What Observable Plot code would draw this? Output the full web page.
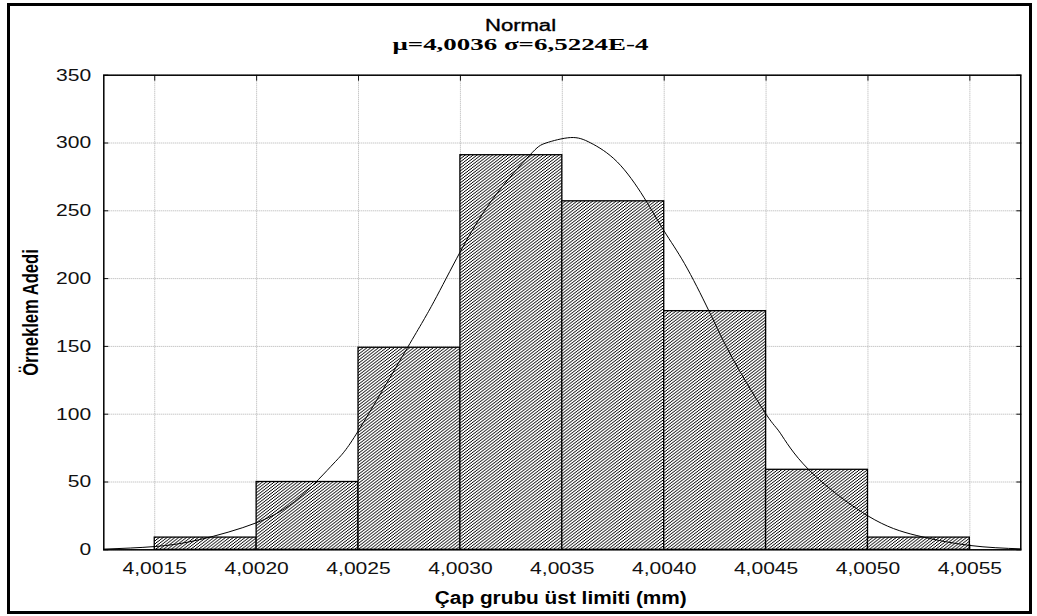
<!DOCTYPE html>
<html>
<head>
<meta charset="utf-8">
<script src="https://cdn.jsdelivr.net/npm/d3@7"></script>
<script src="https://cdn.jsdelivr.net/npm/@observablehq/plot@0.6"></script>
<style>
  html, body { margin: 0; padding: 0; background: #fff; }
  #wrap { position: relative; width: 1037px; height: 616px; overflow: hidden; background: #fff; }
  #wrap svg { position: absolute; left: 0; top: 0; }
  #border { position: absolute; left: 7px; top: 3px; width: 1025px; height: 611px; box-sizing: border-box; border: 3px solid #000; pointer-events: none; }
</style>
</head>
<body>
<div id="wrap"><div id="border"></div></div>
<script>
// ---- data ----
const titleText = "Normal";
const subtitleText = "μ=4,0036 σ=6,5224E-4";
const xLabel = "Çap grubu üst limiti (mm)";
const yLabel = "Örneklem Adedi";

const binLow  = [4.0015, 4.0020, 4.0025, 4.0030, 4.0035, 4.0040, 4.0045, 4.0050];
const binHigh = [4.0020, 4.0025, 4.0030, 4.0035, 4.0040, 4.0045, 4.0050, 4.0055];
const counts  = [9, 50, 149, 291, 257, 176, 59, 9];

// fitted normal curve
const curveX = [4.00125, 4.0015, 4.00172, 4.0020, 4.00221, 4.00238, 4.0025, 4.00274, 4.00287, 4.0030,
                4.00316, 4.00334, 4.00342, 4.00354, 4.00364, 4.00377, 4.0039, 4.0040, 4.0041, 4.00422,
                4.00434, 4.0045, 4.00457, 4.00471, 4.0050, 4.00524, 4.0055, 4.00575];
const curveY = [0.5, 2.4, 7.5, 20, 38.5, 64, 88, 149, 183, 220,
                259, 291, 300, 304, 300, 286, 260, 235, 211, 176,
                140, 100, 86, 59, 25, 10.5, 3.2, 0.7];

const xTicks = [4.0015, 4.0020, 4.0025, 4.0030, 4.0035, 4.0040, 4.0045, 4.0050, 4.0055];
const xTickLabels = ["4,0015", "4,0020", "4,0025", "4,0030", "4,0035", "4,0040", "4,0045", "4,0050", "4,0055"];
const yTicks = [0, 50, 100, 150, 200, 250, 300, 350];
const xDomain = [4.00125, 4.00575];
const yDomain = [0, 350];

// ---- build ----
const bars = binLow.map((lo, i) => ({lo, hi: binHigh[i], n: counts[i]}));
const curve = curveX.map((x, i) => ({x, y: curveY[i]}));
const fmtX = d => xTickLabels[xTicks.indexOf(d)];
const blank = () => "";

const gridStyle = {stroke: "#b0b0b0", strokeOpacity: 1, strokeDasharray: "1,1", strokeWidth: 1};

const svg = Plot.plot({
  width: 1037,
  height: 616,
  marginLeft: 103.3,
  marginRight: 16.7,
  marginTop: 74.7,
  marginBottom: 66.7,
  style: {fontFamily: "'Liberation Sans', Arial, sans-serif", background: "transparent", color: "#111", overflow: "visible"},
  x: {domain: xDomain, label: null},
  y: {domain: yDomain, label: null},
  marks: [
    Plot.gridX(xTicks, gridStyle),
    Plot.gridY(yTicks, gridStyle),
    Plot.axisX(xTicks, {anchor: "top", tickSize: -5, tickFormat: blank, label: null}),
    Plot.axisX(xTicks, {anchor: "bottom", tickSize: -5, tickFormat: blank, label: null}),
    Plot.axisY(yTicks, {anchor: "left", tickSize: -5, tickFormat: blank, label: null}),
    Plot.axisY(yTicks, {anchor: "right", tickSize: -5, tickFormat: blank, label: null}),
    Plot.rectY(bars, {x1: "lo", x2: "hi", y: "n", fill: "url(#hatch)", stroke: "#000", strokeWidth: 1.3}),
    Plot.line(curve, {x: "x", y: "y", curve: "natural", stroke: "#000", strokeWidth: 1}),
    Plot.frame({stroke: "#000", strokeWidth: 1.5}),
    Plot.axisY(yTicks, {anchor: "left", tickSize: 0, tickPadding: 12.6, fontSize: 17, label: null}),
    Plot.axisX(xTicks, {anchor: "bottom", tickSize: 0, tickPadding: 12.4, fontSize: 17, tickFormat: fmtX, label: null}),
    Plot.text([titleText], {text: d => d, frameAnchor: "top", dx: -41.8, dy: -44.2, lineAnchor: "bottom", fontSize: 16, fill: "#000", stroke: "#000", strokeWidth: 0.35}),
    Plot.text([subtitleText], {text: d => d, frameAnchor: "top", dx: -41.8, dy: -25.2, lineAnchor: "bottom", fontSize: 17.5, fontWeight: "bold", fontFamily: "'Liberation Serif', 'Times New Roman', serif", fill: "#000"}),
    Plot.text([xLabel], {text: d => d, frameAnchor: "bottom", dx: -1.5, dy: 54, lineAnchor: "bottom", fontSize: 17.5, fontWeight: "bold", fill: "#000"}),
    Plot.text([yLabel], {text: d => d, frameAnchor: "left", textAnchor: "middle", dx: -72.8, rotate: -90, fontSize: 16.6, fontWeight: "bold", fill: "#000"})
  ]
});

// fine diagonal hatch, stretched sideways like the reference picture
const defs = document.createElementNS("http://www.w3.org/2000/svg", "defs");
defs.innerHTML = '<pattern id="hatch" patternUnits="userSpaceOnUse" x="0" y="0" width="3" height="3" patternTransform="scale(1.3,1)">' +
  '<rect width="3" height="3" fill="#fff"/>' +
  '<rect x="2" y="0" width="1" height="1" fill="#000"/>' +
  '<rect x="1" y="1" width="1" height="1" fill="#000"/>' +
  '<rect x="0" y="2" width="1" height="1" fill="#000"/>' +
  '</pattern>';
svg.insertBefore(defs, svg.firstChild);

// horizontal stretch of the texts (the reference picture is stretched sideways)
const yTickStr = yTicks.map(String);
svg.querySelectorAll("text").forEach(t => {
  const s = t.textContent;
  let k = null, rotated = false;
  if (s === titleText) k = 1.38;
  else if (s === subtitleText) k = 1.54;
  else if (s === xLabel) k = 1.19;
  else if (s === yLabel) { k = 1.3; rotated = true; }
  else if (xTickLabels.includes(s) || yTickStr.includes(s)) k = 1.24;
  if (k) {
    const tr = t.getAttribute("transform") || "";
    t.setAttribute("transform", tr + (rotated ? ` scale(1,${k})` : ` scale(${k},1)`));
  }
});

document.getElementById("wrap").appendChild(svg);
</script>
</body>
</html>
